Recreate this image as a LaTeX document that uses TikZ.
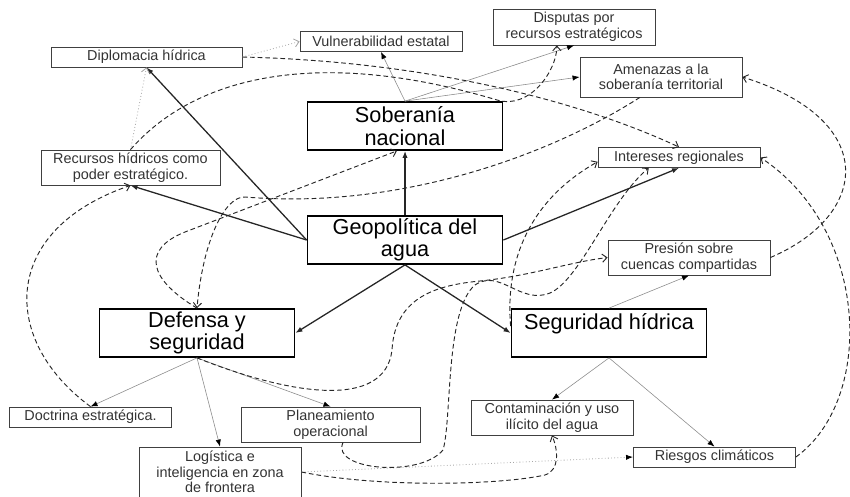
\documentclass[tikz,border=0pt]{standalone}
\usepackage{fontspec}
\setmainfont{Liberation Sans}
\usetikzlibrary{arrows.meta}

\tikzset{
  leaf/.style={draw=black!75, line width=0.7pt, text=black!80, align=center, inner sep=1pt,
    minimum width=4.86cm, minimum height=0.6cm, font=\fontsize{12.3}{13.3}\selectfont},
  hub/.style={draw, line width=1.5pt, align=center, inner sep=1pt,
    minimum width=5.85cm, minimum height=1.44cm, font=\fontsize{18.5}{19}\selectfont},
  main/.style={-{Latex[length=6pt,width=4.5pt]}, line width=1.1pt, black!85},
  sub/.style={-{Latex[length=6pt,width=4.5pt,color=black]}, line width=0.5pt, black!45},
  link/.style={-{Straight Barb[length=4pt,width=7pt]}, dash pattern=on 4pt off 2.5pt, line width=0.8pt, black!85},
  hint/.style={-{Straight Barb[length=4pt,width=7pt]}, dotted, line width=0.7pt, black!35},
}

\begin{document}
\begin{tikzpicture}[x=0.03cm, y=-0.03cm]
\useasboundingbox (0,0) rectangle (850,496);
\clip (0,0) rectangle (850,496);

\node[hub] (geo) at (405,240) {Geopolítica del\\agua};
\node[hub] (sob) at (405,126) {Soberanía\\nacional};
\node[hub] (def) at (197,333) {Defensa y\\seguridad};
\node[hub] (seg) at (609,333) {Seguridad hídrica\\~};

\node[leaf, minimum width=5.73cm] (dip) at (146.5,57) {Diplomacia hídrica};
\node[leaf] (vul) at (381,41.5) {Vulnerabilidad estatal};
\node[leaf, minimum height=1.08cm] (dis) at (574,27) {Disputas por\\recursos estratégicos};
\node[leaf, minimum height=1.2cm] (ame) at (661,77) {Amenazas a la\\soberanía territorial};
\node[leaf, minimum width=5.37cm, minimum height=1.05cm] (rec) at (130.5,167.5) {Recursos hídricos como\\poder estratégico.};
\node[leaf] (int) at (679,157.5) {Intereses regionales};
\node[leaf, minimum height=1.05cm] (pre) at (689,257.5) {Presión sobre\\cuencas compartidas};
\node[leaf] (doc) at (90.5,417) {Doctrina estratégica.};
\node[leaf, minimum width=5.37cm, minimum height=1.05cm] (pla) at (330.5,424.5) {Planeamiento\\operacional};
\node[leaf, minimum height=1.5cm] (log) at (220,472) {Logística e\\inteligencia en zona\\de frontera};
\node[leaf, minimum height=1.05cm] (con) at (552,417.5) {Contaminación y uso\\ilícito del agua};
\node[leaf] (rie) at (714.5,457) {Riesgos climáticos};

\draw[main] (geo.west) -- (dip.south);
\draw[main] (geo.west) -- (rec.south);
\draw[main] (geo.north) -- (sob.south);
\draw[main] (geo.east) -- (int.south);
\draw[main] (geo.south) -- (def.east);
\draw[main] (geo.south) -- (seg.west);

\draw[sub] (sob.north) -- (vul.south);
\draw[sub] (sob.north) -- (dis.south);
\draw[sub] (sob.north) -- (ame.west);
\draw[sub] (def.south) -- (doc.north);
\draw[sub] (def.south) -- (log.north);
\draw[sub] (def.south) -- (pla.north);
\draw[sub] (seg.north) -- (pre.south);
\draw[sub] (seg.south) -- (con.north);
\draw[sub] (seg.south) -- (rie.north);

\draw[hint] (rec.north) -- (dip.south);
\draw[hint] (dip.east) -- (vul.west);
\draw[hint, -{Latex[length=6pt,width=4.5pt,color=black]}] (log.east) -- (rie.west);

\draw[link] (dip.east) .. controls (450,62) and (600,110) .. (int.north);
\draw[link] (rec.north) .. controls (200,70) and (330,50) .. (497,100)
  .. controls (530,110) and (557,70) .. (dis.227);
\draw[link] (ame.224) .. controls (550,155) and (400,210) .. (245,197)
  .. controls (225,196) and (203,240) .. (def.north);
\draw[link] (def.north) .. controls (150,280) and (140,250) .. (185,232) -- (sob.252);
\draw[link] (doc.north) .. controls (0,340) and (0,230) .. (rec.south);
\draw[link] (pla.-55) .. controls (330,470) and (420,478) .. (443,450)
  .. controls (452,420) and (445,310) .. (475,285)
  .. controls (500,268) and (520,305) .. (550,293)
  .. controls (580,280) and (610,200) .. (int.199);
\draw[link] (seg.176) .. controls (505,260) and (530,200) .. (int.183);
\draw[link] (def.south) .. controls (290,395) and (385,410) .. (392,350)
  .. controls (395,295) and (440,285) .. (480,281)
  .. controls (530,276) and (570,262) .. (pre.west);
\draw[link] (log.east) .. controls (380,488) and (500,485) .. (545,475)
  .. controls (560,470) and (558,450) .. (con.south);
\draw[link] (rie.east) .. controls (875,400) and (870,230) .. (int.east);
\draw[link] (pre.east) .. controls (870,215) and (880,120) .. (ame.east);
\end{tikzpicture}
\end{document}
